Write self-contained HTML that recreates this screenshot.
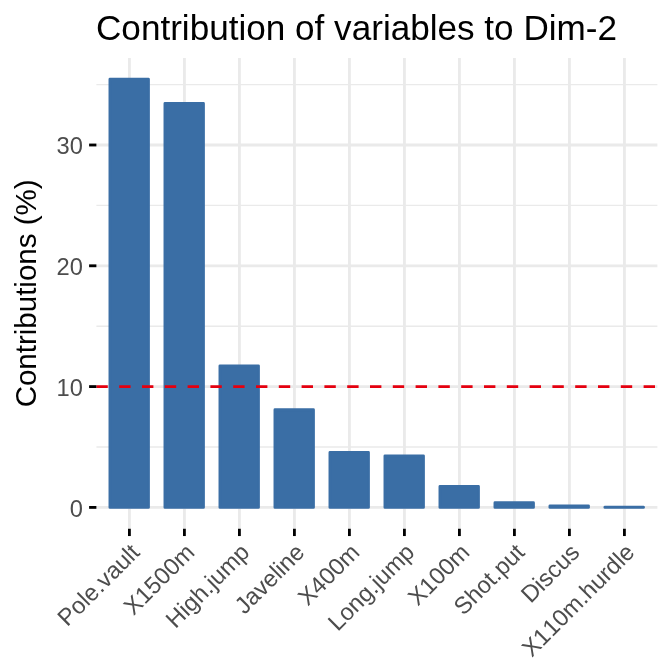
<!DOCTYPE html>
<html><head><meta charset="utf-8"><title>Contribution of variables to Dim-2</title>
<style>html,body{margin:0;padding:0;background:#fff}svg{display:block}text{font-family:"Liberation Sans",Arial,Helvetica,sans-serif;font-kerning:none}</style></head><body>
<svg width="672" height="672" viewBox="0 0 672 672">
<rect width="672" height="672" fill="#fff"/>
<line x1="96.4" x2="657.4" y1="447.00" y2="447.00" stroke="#EAEAEA" stroke-width="1.42"/>
<line x1="96.4" x2="657.4" y1="326.20" y2="326.20" stroke="#EAEAEA" stroke-width="1.42"/>
<line x1="96.4" x2="657.4" y1="205.40" y2="205.40" stroke="#EAEAEA" stroke-width="1.42"/>
<line x1="96.4" x2="657.4" y1="84.60" y2="84.60" stroke="#EAEAEA" stroke-width="1.42"/>
<line x1="96.4" x2="657.4" y1="507.40" y2="507.40" stroke="#EAEAEA" stroke-width="2.85"/>
<line x1="96.4" x2="657.4" y1="386.60" y2="386.60" stroke="#EAEAEA" stroke-width="2.85"/>
<line x1="96.4" x2="657.4" y1="265.80" y2="265.80" stroke="#EAEAEA" stroke-width="2.85"/>
<line x1="96.4" x2="657.4" y1="145.00" y2="145.00" stroke="#EAEAEA" stroke-width="2.85"/>
<line x1="129.40" x2="129.40" y1="58.0" y2="528.75" stroke="#EAEAEA" stroke-width="2.85"/>
<line x1="184.40" x2="184.40" y1="58.0" y2="528.75" stroke="#EAEAEA" stroke-width="2.85"/>
<line x1="239.40" x2="239.40" y1="58.0" y2="528.75" stroke="#EAEAEA" stroke-width="2.85"/>
<line x1="294.40" x2="294.40" y1="58.0" y2="528.75" stroke="#EAEAEA" stroke-width="2.85"/>
<line x1="349.40" x2="349.40" y1="58.0" y2="528.75" stroke="#EAEAEA" stroke-width="2.85"/>
<line x1="404.40" x2="404.40" y1="58.0" y2="528.75" stroke="#EAEAEA" stroke-width="2.85"/>
<line x1="459.40" x2="459.40" y1="58.0" y2="528.75" stroke="#EAEAEA" stroke-width="2.85"/>
<line x1="514.40" x2="514.40" y1="58.0" y2="528.75" stroke="#EAEAEA" stroke-width="2.85"/>
<line x1="569.40" x2="569.40" y1="58.0" y2="528.75" stroke="#EAEAEA" stroke-width="2.85"/>
<line x1="624.40" x2="624.40" y1="58.0" y2="528.75" stroke="#EAEAEA" stroke-width="2.85"/>
<rect x="109.95" y="79.17" width="38.5" height="428.23" fill="#3A6EA5" stroke="#3A6EA5" stroke-width="2.85" stroke-linejoin="round"/>
<rect x="164.95" y="103.40" width="38.5" height="404.00" fill="#3A6EA5" stroke="#3A6EA5" stroke-width="2.85" stroke-linejoin="round"/>
<rect x="219.95" y="365.80" width="38.5" height="141.60" fill="#3A6EA5" stroke="#3A6EA5" stroke-width="2.85" stroke-linejoin="round"/>
<rect x="274.95" y="409.70" width="38.5" height="97.70" fill="#3A6EA5" stroke="#3A6EA5" stroke-width="2.85" stroke-linejoin="round"/>
<rect x="329.95" y="452.40" width="38.5" height="55.00" fill="#3A6EA5" stroke="#3A6EA5" stroke-width="2.85" stroke-linejoin="round"/>
<rect x="384.95" y="455.80" width="38.5" height="51.60" fill="#3A6EA5" stroke="#3A6EA5" stroke-width="2.85" stroke-linejoin="round"/>
<rect x="439.95" y="486.40" width="38.5" height="21.00" fill="#3A6EA5" stroke="#3A6EA5" stroke-width="2.85" stroke-linejoin="round"/>
<rect x="494.95" y="502.70" width="38.5" height="4.70" fill="#3A6EA5" stroke="#3A6EA5" stroke-width="2.85" stroke-linejoin="round"/>
<rect x="549.95" y="505.80" width="38.5" height="1.60" fill="#3A6EA5" stroke="#3A6EA5" stroke-width="2.85" stroke-linejoin="round"/>
<rect x="604.95" y="507.10" width="38.5" height="0.30" fill="#3A6EA5" stroke="#3A6EA5" stroke-width="2.85" stroke-linejoin="round"/>
<line x1="96.4" x2="657.4" y1="386.60" y2="386.60" stroke="#E5000F" stroke-width="2.85" stroke-dasharray="11.4 11.4"/>
<line x1="89.10" x2="96.4" y1="507.40" y2="507.40" stroke="#000" stroke-width="2.85"/>
<text x="82.90" y="516.50" font-size="23.7" text-anchor="end" fill="#4D4D4D">0</text>
<line x1="89.10" x2="96.4" y1="386.60" y2="386.60" stroke="#000" stroke-width="2.85"/>
<text x="82.90" y="395.70" font-size="23.7" text-anchor="end" fill="#4D4D4D">10</text>
<line x1="89.10" x2="96.4" y1="265.80" y2="265.80" stroke="#000" stroke-width="2.85"/>
<text x="82.90" y="274.90" font-size="23.7" text-anchor="end" fill="#4D4D4D">20</text>
<line x1="89.10" x2="96.4" y1="145.00" y2="145.00" stroke="#000" stroke-width="2.85"/>
<text x="82.90" y="154.10" font-size="23.7" text-anchor="end" fill="#4D4D4D">30</text>
<line x1="129.40" x2="129.40" y1="528.75" y2="536.05" stroke="#000" stroke-width="2.85"/>
<text transform="translate(129.40,542.25) rotate(-45)" x="0" y="16.3" font-size="23.7" text-anchor="end" fill="#4D4D4D">Pole.vault</text>
<line x1="184.40" x2="184.40" y1="528.75" y2="536.05" stroke="#000" stroke-width="2.85"/>
<text transform="translate(184.40,542.25) rotate(-45)" x="0" y="16.3" font-size="23.7" text-anchor="end" fill="#4D4D4D">X1500m</text>
<line x1="239.40" x2="239.40" y1="528.75" y2="536.05" stroke="#000" stroke-width="2.85"/>
<text transform="translate(239.40,542.25) rotate(-45)" x="0" y="16.3" font-size="23.7" text-anchor="end" fill="#4D4D4D">High.jump</text>
<line x1="294.40" x2="294.40" y1="528.75" y2="536.05" stroke="#000" stroke-width="2.85"/>
<text transform="translate(294.40,542.25) rotate(-45)" x="0" y="16.3" font-size="23.7" text-anchor="end" fill="#4D4D4D">Javeline</text>
<line x1="349.40" x2="349.40" y1="528.75" y2="536.05" stroke="#000" stroke-width="2.85"/>
<text transform="translate(349.40,542.25) rotate(-45)" x="0" y="16.3" font-size="23.7" text-anchor="end" fill="#4D4D4D">X400m</text>
<line x1="404.40" x2="404.40" y1="528.75" y2="536.05" stroke="#000" stroke-width="2.85"/>
<text transform="translate(404.40,542.25) rotate(-45)" x="0" y="16.3" font-size="23.7" text-anchor="end" fill="#4D4D4D">Long.jump</text>
<line x1="459.40" x2="459.40" y1="528.75" y2="536.05" stroke="#000" stroke-width="2.85"/>
<text transform="translate(459.40,542.25) rotate(-45)" x="0" y="16.3" font-size="23.7" text-anchor="end" fill="#4D4D4D">X100m</text>
<line x1="514.40" x2="514.40" y1="528.75" y2="536.05" stroke="#000" stroke-width="2.85"/>
<text transform="translate(514.40,542.25) rotate(-45)" x="0" y="16.3" font-size="23.7" text-anchor="end" fill="#4D4D4D">Shot.put</text>
<line x1="569.40" x2="569.40" y1="528.75" y2="536.05" stroke="#000" stroke-width="2.85"/>
<text transform="translate(569.40,542.25) rotate(-45)" x="0" y="16.3" font-size="23.7" text-anchor="end" fill="#4D4D4D">Discus</text>
<line x1="624.40" x2="624.40" y1="528.75" y2="536.05" stroke="#000" stroke-width="2.85"/>
<text transform="translate(624.40,542.25) rotate(-45)" x="0" y="16.3" font-size="23.7" text-anchor="end" fill="#4D4D4D">X110m.hurdle</text>
<text x="96" y="39.5" font-size="35.12" fill="#000">Contribution of variables to Dim-2</text>
<text transform="translate(36.25,293.4) rotate(-90)" font-size="29.5" text-anchor="middle" fill="#000">Contributions (%)</text>
</svg></body></html>
